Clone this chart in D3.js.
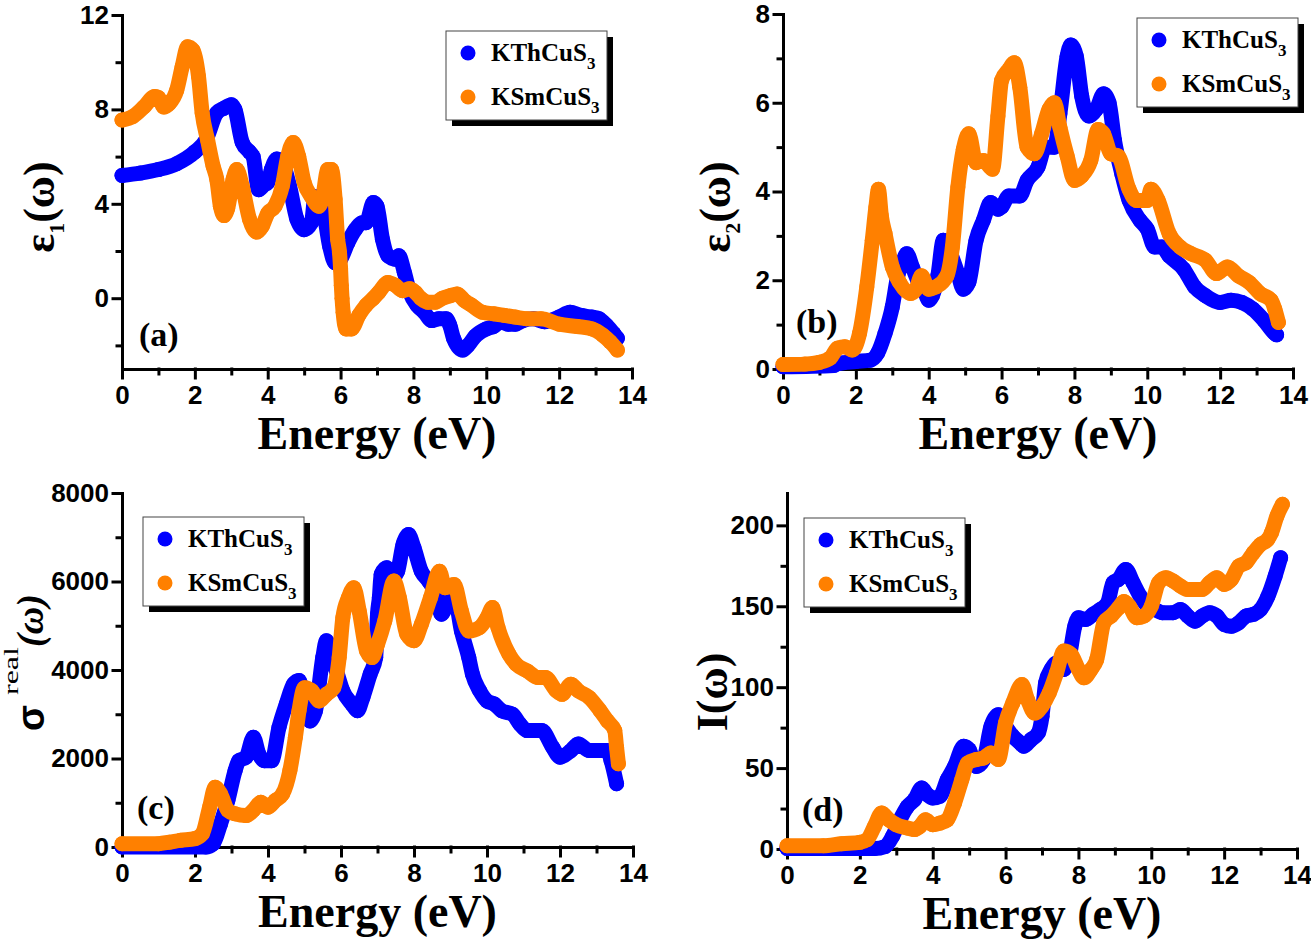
<!DOCTYPE html>
<html>
<head>
<meta charset="utf-8">
<script src="https://cdnjs.cloudflare.com/ajax/libs/d3/7.8.5/d3.min.js"></script>
<style>
body { margin: 0; background: #fff; }
svg { display: block; }
.axis path, .axis line { stroke: #000; stroke-width: 3px; stroke-linecap: square; }
.axis text { font-family: "Liberation Sans", Arial, sans-serif; font-weight: bold; font-size: 26px; fill: #000; }
.serif { font-family: "Liberation Serif", "Times New Roman", serif; font-weight: bold; fill: #000; }
</style>
</head>
<body>
<svg width="1311" height="939"></svg>
<script>
// series names
var seriesNames = ["KThCuS", "KSmCuS"];
var colors = ["#0000ff", "#ff8000"];

// x ticks (Energy, eV)
var xMajor = [0, 2, 4, 6, 8, 10, 12, 14];
var xMinor = [1, 3, 5, 7, 9, 11, 13];

// (a) eps1
var eps1Th = [[0,5.2],[0.5,5.3],[1,5.45],[1.5,5.7],[2,6.2],[2.3,6.7],[2.6,7.85],[2.8,8.05],[3.0,8.2],[3.1,8.0],[3.3,6.6],[3.5,6.2],[3.6,6.0],[3.75,4.6],[3.9,4.8],[4.0,4.9],[4.1,5.45],[4.25,5.9],[4.4,5.75],[4.6,4.75],[4.8,3.35],[5.0,2.9],[5.2,3.2],[5.3,4.3],[5.5,3.9],[5.7,2.2],[5.85,1.5],[6.0,1.65],[6.2,2.35],[6.4,2.9],[6.6,3.2],[6.7,3.2],[6.9,4.05],[7.0,3.9],[7.15,2.5],[7.3,1.8],[7.5,1.65],[7.6,1.8],[7.75,1.1],[7.9,0.25],[8.1,-0.3],[8.3,-0.6],[8.5,-0.95],[8.7,-0.87],[8.9,-0.87],[9.0,-1.15],[9.1,-1.7],[9.35,-2.2],[9.5,-2.0],[9.7,-1.6],[10.0,-1.3],[10.2,-1.2],[10.4,-1.0],[10.6,-1.1],[10.8,-1.1],[11.0,-0.95],[11.3,-0.87],[11.6,-1.0],[12.0,-0.8],[12.3,-0.6],[12.6,-0.73],[12.9,-0.8],[13.1,-0.87],[13.3,-1.15],[13.5,-1.5],[13.6,-1.7]];
var eps1Sm = [[0,7.55],[0.3,7.7],[0.6,8.1],[0.9,8.55],[1.0,8.5],[1.15,8.1],[1.3,8.25],[1.5,8.8],[1.65,9.8],[1.8,10.65],[1.95,10.5],[2.1,9.4],[2.2,7.85],[2.35,6.7],[2.5,5.6],[2.6,5.05],[2.7,3.9],[2.8,3.5],[2.9,3.8],[3.05,5.05],[3.15,5.45],[3.3,4.75],[3.5,3.35],[3.7,2.8],[3.85,3.05],[4.0,3.6],[4.2,3.9],[4.4,4.75],[4.55,6.0],[4.7,6.6],[4.85,6.0],[5.0,4.9],[5.2,4.3],[5.4,3.9],[5.5,4.2],[5.65,5.45],[5.75,5.45],[5.85,4.2],[5.92,2.5],[5.97,1.95],[6.0,1.25],[6.02,0.55],[6.04,0.0],[6.07,-0.6],[6.15,-1.3],[6.3,-1.3],[6.5,-0.73],[6.7,-0.3],[6.9,0],[7.05,0.25],[7.3,0.67],[7.5,0.55],[7.7,0.32],[7.9,0.4],[8.05,0.25],[8.2,0.0],[8.4,-0.17],[8.6,-0.17],[8.8,0.0],[9.0,0.1],[9.2,0.18],[9.4,-0.1],[9.6,-0.3],[9.9,-0.6],[10.2,-0.66],[10.5,-0.73],[10.8,-0.8],[11.1,-0.87],[11.5,-0.87],[12.0,-1.1],[12.5,-1.2],[12.9,-1.3],[13.2,-1.57],[13.4,-1.85],[13.6,-2.2]];

// (b) eps2
var eps2Th = [[0,0.05],[1.4,0.08],[1.5,0.12],[2.0,0.17],[2.4,0.2],[2.6,0.36],[2.8,0.8],[3.0,1.4],[3.15,2.1],[3.3,2.45],[3.4,2.6],[3.55,2.3],[3.7,2.0],[3.85,1.85],[4.0,1.55],[4.1,1.65],[4.25,2.1],[4.4,2.9],[4.6,2.6],[4.8,2.15],[4.95,1.8],[5.1,1.95],[5.3,2.9],[5.5,3.35],[5.7,3.75],[5.9,3.6],[6.0,3.65],[6.2,3.9],[6.5,3.9],[6.7,4.25],[7.0,4.55],[7.2,5.0],[7.45,5.0],[7.6,5.75],[7.8,7.05],[7.9,7.3],[8.05,7.05],[8.2,6.15],[8.4,5.7],[8.6,5.85],[8.8,6.2],[8.95,6.0],[9.1,5.15],[9.3,4.4],[9.5,3.8],[9.8,3.35],[10.0,3.15],[10.2,2.75],[10.4,2.75],[10.6,2.55],[11.0,2.25],[11.3,1.85],[11.6,1.65],[12.0,1.5],[12.3,1.55],[12.6,1.5],[12.9,1.35],[13.2,1.1],[13.5,0.8],[13.55,0.77]];
var eps2Sm = [[0,0.1],[0.6,0.11],[1.0,0.15],[1.3,0.25],[1.5,0.47],[1.7,0.5],[1.9,0.43],[2.1,0.8],[2.3,1.85],[2.45,2.9],[2.55,3.65],[2.62,4.05],[2.7,3.45],[2.8,3.05],[3.0,2.3],[3.2,1.95],[3.5,1.7],[3.65,1.8],[3.8,2.1],[4.0,1.8],[4.2,1.85],[4.5,2.1],[4.65,2.75],[4.8,4.1],[4.95,4.95],[5.1,5.3],[5.3,4.65],[5.5,4.7],[5.75,4.5],[5.9,5.7],[6.0,6.5],[6.2,6.75],[6.35,6.9],[6.5,6.35],[6.7,5.0],[6.9,4.85],[7.1,5.3],[7.3,5.85],[7.45,6.0],[7.6,5.45],[7.8,4.8],[8.0,4.25],[8.2,4.35],[8.45,4.7],[8.65,5.4],[8.8,5.3],[9.0,4.85],[9.2,4.8],[9.5,4.05],[9.7,3.8],[10.0,3.8],[10.1,4.05],[10.3,3.8],[10.6,3.05],[10.9,2.75],[11.2,2.6],[11.6,2.45],[11.9,2.15],[12.2,2.3],[12.5,2.1],[12.8,1.95],[13.1,1.7],[13.4,1.55],[13.5,1.35],[13.6,1.05]];

// (c) sigma real
var sigTh = [[0,0],[2.3,0],[2.5,75],[2.7,525],[2.9,1050],[3.1,1730],[3.2,1950],[3.4,2030],[3.6,2480],[3.75,2100],[3.9,1950],[4.1,1950],[4.3,2700],[4.5,3230],[4.7,3680],[4.85,3760],[5.0,3300],[5.15,2850],[5.3,3080],[5.5,4280],[5.6,4660],[5.75,4280],[5.9,3910],[6.05,3530],[6.3,3230],[6.45,3080],[6.6,3380],[6.8,3910],[6.95,4280],[7.0,5260],[7.05,5630],[7.1,6160],[7.25,6310],[7.4,6080],[7.55,6230],[7.7,6840],[7.85,7060],[8.0,6760],[8.2,6230],[8.4,6010],[8.6,5710],[8.75,5260],[8.9,5500],[9.05,5900],[9.3,4880],[9.5,4280],[9.6,3910],[9.8,3530],[10.0,3300],[10.2,3230],[10.4,3080],[10.7,3000],[10.9,2780],[11.1,2630],[11.5,2630],[11.8,2250],[12.0,2030],[12.3,2180],[12.5,2330],[12.8,2180],[13.3,2180],[13.4,1950],[13.55,1430]];
var sigSm = [[0,75],[1.0,75],[1.3,110],[1.6,150],[2.0,190],[2.2,300],[2.4,900],[2.55,1350],[2.7,1200],[2.9,830],[3.1,750],[3.4,710],[3.6,830],[3.8,1010],[4.0,900],[4.2,1050],[4.4,1200],[4.6,1730],[4.75,2480],[4.85,3080],[5.0,3600],[5.2,3530],[5.4,3300],[5.6,3450],[5.8,3600],[5.95,4280],[6.05,5180],[6.2,5630],[6.35,5860],[6.5,5330],[6.7,4430],[6.85,4280],[7.0,4580],[7.2,5110],[7.45,6010],[7.6,5630],[7.8,4810],[8.0,4660],[8.2,5030],[8.45,5630],[8.7,6230],[8.85,5860],[9.1,5930],[9.3,5330],[9.5,4880],[9.8,4960],[10.0,5180],[10.15,5410],[10.3,4960],[10.6,4360],[10.8,4130],[11.1,3980],[11.4,3830],[11.6,3830],[11.9,3530],[12.05,3450],[12.3,3680],[12.5,3530],[12.8,3380],[13.1,3080],[13.3,2850],[13.5,2630],[13.55,2250],[13.6,1880]];

// (d) I(w)
var intTh = [[0,0.3],[2.4,0.3],[2.7,1.6],[2.9,8],[3.1,18],[3.3,26],[3.5,30.5],[3.7,37.7],[3.85,33.6],[4.0,31.5],[4.2,32.6],[4.4,42.9],[4.6,51],[4.85,63.5],[5.0,61.4],[5.2,51],[5.4,55.3],[5.6,75.9],[5.8,83],[6.0,75.9],[6.2,69.7],[6.4,65.6],[6.5,63.5],[6.7,67.6],[6.9,71.8],[7.0,82],[7.1,102.7],[7.25,111],[7.4,115],[7.6,111],[7.75,119],[7.9,137.7],[8.0,142.9],[8.2,141.9],[8.4,145],[8.6,148],[8.8,152],[8.95,164.5],[9.1,166.6],[9.3,172.8],[9.5,164.5],[9.7,156],[9.9,150],[10.1,148],[10.3,146],[10.6,146],[10.8,148],[11.0,144],[11.2,140.8],[11.4,144],[11.6,146],[11.8,144],[12.0,138.8],[12.2,137.7],[12.4,139.8],[12.6,144],[12.8,145],[13.0,148],[13.2,156],[13.4,168.7],[13.55,180]];
var intSm = [[0,2],[1.0,2],[1.5,3.3],[2.0,4.1],[2.2,5.8],[2.4,14],[2.6,22.3],[2.8,18],[3.0,15],[3.3,13],[3.5,12],[3.65,14],[3.8,18],[4.0,15],[4.2,16],[4.4,18],[4.6,28.5],[4.8,42.9],[4.95,53],[5.2,55.3],[5.4,56.3],[5.6,59.4],[5.8,55.3],[6.0,78],[6.2,90.3],[6.45,101.6],[6.6,92.4],[6.8,84],[7.0,88.2],[7.2,96.5],[7.4,108.9],[7.6,122.3],[7.8,120.2],[8.0,111],[8.15,105.8],[8.35,111],[8.5,117],[8.7,139.8],[8.9,144],[9.1,149],[9.25,153],[9.4,150],[9.6,142.9],[9.8,144],[10.0,150],[10.2,164.5],[10.4,167.6],[10.6,165.6],[10.8,162.5],[11.0,160.4],[11.4,160.4],[11.6,164.5],[11.8,167.6],[12.0,163.5],[12.2,166.6],[12.4,174.8],[12.6,176.9],[12.8,183],[13.0,188.2],[13.2,191.3],[13.3,195.5],[13.45,205.8],[13.6,213]];

var panels = [
    { tag: "(a)", left: 122, right: 632, top: 15, bottom: 369, yDomain: [-3, 12],
      yMajor: [0, 4, 8, 12], yMinor: [-2, 2, 6, 10], series: [eps1Th, eps1Sm],
      legend: [446, 31], tagPos: [139, 346], ylab: "eps1", ylabPos: [54, 207] },
    { tag: "(b)", left: 783, right: 1293, top: 14, bottom: 369, yDomain: [0, 8],
      yMajor: [0, 2, 4, 6, 8], yMinor: [1, 3, 5, 7], series: [eps2Th, eps2Sm],
      legend: [1137, 18], tagPos: [796, 333], ylab: "eps2", ylabPos: [730, 207] },
    { tag: "(c)", left: 122, right: 633, top: 493, bottom: 847, yDomain: [0, 8000],
      yMajor: [0, 2000, 4000, 6000, 8000], yMinor: [1000, 3000, 5000, 7000], series: [sigTh, sigSm],
      legend: [143, 517], tagPos: [137, 819], ylab: "sigma", ylabPos: [44, 731] },
    { tag: "(d)", left: 787, right: 1297, top: 493, bottom: 849, yDomain: [0, 220],
      yMajor: [0, 50, 100, 150, 200], yMinor: [25, 75, 125, 175], series: [intTh, intSm],
      legend: [804, 518], tagPos: [802, 821], ylab: "int", ylabPos: [727, 692] }
];

const svg = d3.select('svg');

function yTitle(g, p) {
    var t = g.append("text").attr("class", "serif")
        .attr("transform", `translate(${p.ylabPos[0]},${p.ylabPos[1]}) rotate(-90)`);
    if (p.ylab == "eps1" || p.ylab == "eps2") {
        t.attr("text-anchor", "middle").attr("font-size", 44);
        t.append("tspan").text("ε");
        t.append("tspan").attr("font-size", 22).attr("dy", 10).text(p.ylab == "eps1" ? "1" : "2");
        t.append("tspan").attr("dy", -10).text("(ω)");
    } else if (p.ylab == "int") {
        t.attr("text-anchor", "middle").attr("font-size", 44).text("I(ω)");
    } else {
        // sigma^real(w)
        t.attr("text-anchor", "start");
        t.append("tspan").attr("font-size", 38)
            .attr("font-family", "'Liberation Sans', Arial, sans-serif").text("σ");
        t.append("tspan").attr("font-size", 21).attr("font-weight", "normal")
            .attr("dx", 10).attr("dy", -26)
            .attr("textLength", 48).attr("lengthAdjust", "spacingAndGlyphs")
            .text("real");
        t.append("tspan").attr("font-size", 38).attr("font-style", "italic")
            .attr("dy", 25).text("(ω)");
    }
}

function drawPanel(p) {
    const g = svg.append('g');
    const xScale = d3.scaleLinear().domain([0, 14]).range([p.left, p.right]);
    const yScale = d3.scaleLinear().domain(p.yDomain).range([p.bottom, p.top]);

    // minor ticks
    g.append('g').attr('class', 'axis')
        .attr('transform', `translate(0,${p.bottom})`)
        .call(d3.axisBottom(xScale).tickValues(xMinor).tickSize(5).tickFormat(''))
        .select('.domain').remove();
    g.append('g').attr('class', 'axis')
        .attr('transform', `translate(${p.left},0)`)
        .call(d3.axisLeft(yScale).tickValues(p.yMinor).tickSize(5).tickFormat(''))
        .select('.domain').remove();

    // major ticks
    g.append('g').attr('class', 'axis')
        .attr('transform', `translate(0,${p.bottom})`)
        .call(d3.axisBottom(xScale).tickValues(xMajor).tickSize(9).tickSizeOuter(0).tickPadding(8).tickFormat(d3.format('d')));
    g.append('g').attr('class', 'axis')
        .attr('transform', `translate(${p.left},0)`)
        .call(d3.axisLeft(yScale).tickValues(p.yMajor).tickSize(9).tickSizeOuter(0).tickPadding(4).tickFormat(d3.format('d')));

    // x title
    g.append("text").attr("class", "serif")
        .attr("x", (p.left + p.right) / 2).attr("y", p.bottom + 80)
        .attr("text-anchor", "middle").attr("font-size", 46)
        .text("Energy (eV)");
    yTitle(g, p);

    // curves, KSmCuS3 on top
    const line = d3.line()
        .x(d => xScale(d[0]))
        .y(d => yScale(d[1]))
        .curve(d3.curveMonotoneX);
    p.series.forEach(function (s, i) {
        g.append("path").datum(s)
            .attr("d", line)
            .attr("fill", "none")
            .attr("stroke", colors[i])
            .attr("stroke-width", 15)
            .attr("stroke-linecap", "round")
            .attr("stroke-linejoin", "round");
        g.selectAll(".dot" + i).data(s).enter().append("circle")
            .attr("class", "dot" + i)
            .attr("cx", d => xScale(d[0]))
            .attr("cy", d => yScale(d[1]))
            .attr("r", 7.5)
            .attr("fill", colors[i]);
    });

    // panel tag
    g.append("text").attr("class", "serif")
        .attr("x", p.tagPos[0]).attr("y", p.tagPos[1])
        .attr("font-size", 34).text(p.tag);

    // legend
    var lx = p.legend[0], ly = p.legend[1];
    g.append("rect").attr("x", lx + 6).attr("y", ly + 6)
        .attr("width", 161).attr("height", 89).attr("fill", "#000");
    g.append("rect").attr("x", lx).attr("y", ly)
        .attr("width", 161).attr("height", 89)
        .attr("fill", "#fff").attr("stroke", "#444").attr("stroke-width", 1);
    seriesNames.forEach(function (n, i) {
        var ry = ly + 22 + i * 44;
        g.append("circle").attr("cx", lx + 22).attr("cy", ry).attr("r", 7.5).attr("fill", colors[i]);
        var t = g.append("text").attr("class", "serif")
            .attr("x", lx + 45).attr("y", ry + 8).attr("font-size", 25);
        t.append("tspan").text(n);
        t.append("tspan").attr("font-size", 17).attr("dy", 8).text("3");
    });
}

panels.forEach(drawPanel);
</script>
</body>
</html>
